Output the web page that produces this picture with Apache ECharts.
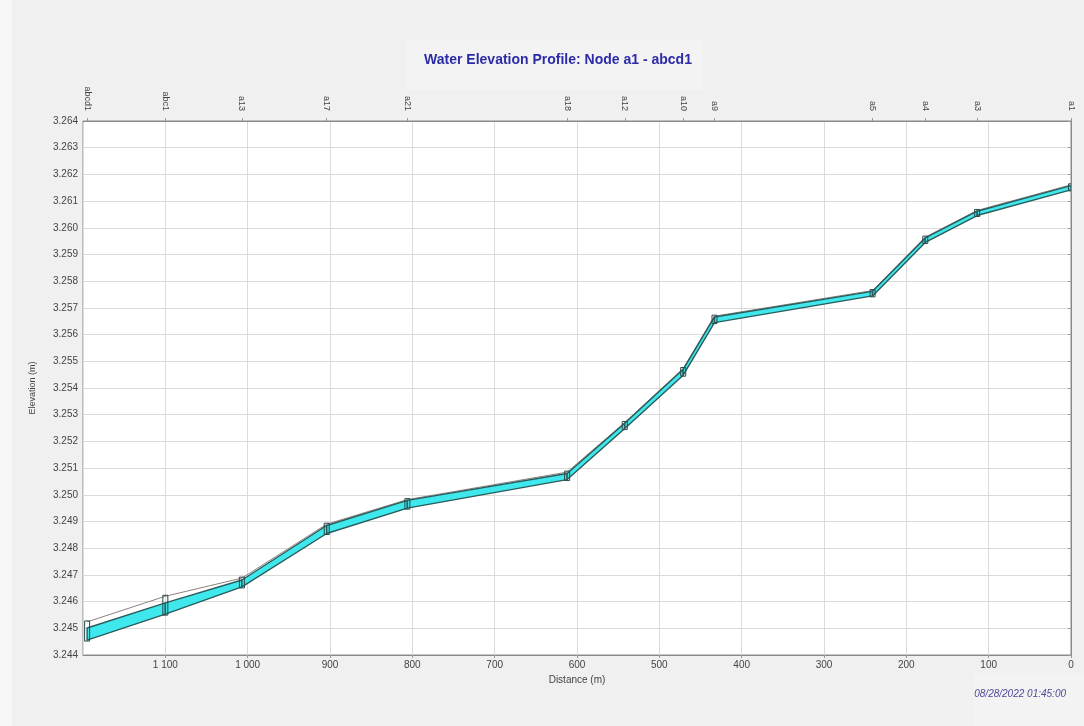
<!DOCTYPE html>
<html>
<head>
<meta charset="utf-8">
<script src="https://cdn.jsdelivr.net/npm/echarts@6/dist/echarts.min.js"></script>
<style>
    html, body { margin: 0; padding: 0; background: #f0f0f0; }
    #chart { width: 1084px; height: 726px; }
</style>
</head>
<body>
<div id="chart"></div>
<script>
// nodes along the profile, from upstream end (left) to a1 (right)
const nodeNames = ['abcd1', 'abc1', 'a13', 'a17', 'a21', 'a18', 'a12', 'a10', 'a9', 'a5', 'a4', 'a3', 'a1'];
const nodeDist = [1195, 1100, 1007, 904, 806, 612, 542, 471, 433, 241, 177, 114, 0];
// water surface band (upper / lower edge) and the thin reference line
const waterTop = [3.24501, 3.24595, 3.24681, 3.24885, 3.24979, 3.25080, 3.25268, 3.25470, 3.25666, 3.25762, 3.25962, 3.26062, 3.26158];
const waterBottom = [3.24456, 3.24553, 3.24655, 3.24855, 3.24950, 3.25057, 3.25248, 3.25448, 3.25645, 3.25745, 3.25945, 3.26046, 3.26142];
const refLine = [3.24524, 3.24620, 3.24688, 3.24890, 3.24982, 3.25085, 3.25271, 3.25473, 3.25669, 3.25765, 3.25965, 3.26065, 3.26161];

const titleText = 'Water Elevation Profile: Node a1 - abcd1';
const stampText = '08/28/2022 01:45:00';

const narrow = '"Liberation Sans Narrow", "Liberation Sans", Arial, sans-serif';

const chart = echarts.init(document.getElementById('chart'));

function fmtDist(v) {
    return v >= 1000 ? String(v).replace(/(\d)(\d{3})$/, '$1 $2') : String(v);
}

// band segment between node i and i+1, plus the little node box
function renderBand(params, api) {
    const i = params.dataIndex;
    const kids = [];
    if (i < nodeDist.length - 1) {
        const a = api.coord([nodeDist[i], waterTop[i]]);
        const b = api.coord([nodeDist[i + 1], waterTop[i + 1]]);
        const c = api.coord([nodeDist[i + 1], waterBottom[i + 1]]);
        const d = api.coord([nodeDist[i], waterBottom[i]]);
        kids.push({
            type: 'polygon',
            shape: { points: [a, b, c, d] },
            style: { fill: '#3ee8ec', stroke: '#2a5c5c', lineWidth: 1.4, lineJoin: 'round' }
        });
    }
    const top = api.coord([nodeDist[i], refLine[i]]);
    const bot = api.coord([nodeDist[i], waterBottom[i]]);
    kids.push({
        type: 'rect',
        shape: { x: top[0] - 2.5, y: top[1] - 1, width: 5, height: bot[1] - top[1] + 2 },
        style: { fill: 'rgba(0,0,0,0)', stroke: '#284a4a', lineWidth: 1 }
    });
    return { type: 'group', children: kids };
}

const option = {
    backgroundColor: '#f0f0f0',
    animation: false,
    title: {
        text: titleText,
        left: 553,
        top: 48,
        textAlign: 'center',
        textStyle: { color: '#2c2ca8', fontSize: 14, fontWeight: 'bold', fontFamily: 'Arial, "Liberation Sans", sans-serif' }
    },
    graphic: [
        { type: 'rect', left: 0, top: 0, shape: { width: 12, height: 726 }, style: { fill: '#f7f7f7' }, z: -10 },
        { type: 'rect', left: 407, top: 40, shape: { width: 296, height: 50 }, style: { fill: '#f3f3f3' }, z: -10 },
        { type: 'rect', left: 973, top: 673, shape: { width: 111, height: 53 }, style: { fill: '#f3f3f3' }, z: -10 },
        {
            type: 'text',
            right: 18,
            top: 689,
            style: { text: stampText, fill: '#4a4a9a', font: 'italic 10px ' + narrow }
        }
    ],
    grid: {
        left: 83,
        right: 13,
        top: 121,
        bottom: 71,
        show: true,
        backgroundColor: '#ffffff',
        borderColor: '#8a8a8a',
        borderWidth: 1
    },
    xAxis: [
        {
            type: 'value',
            min: 0,
            max: 1200,
            interval: 100,
            inverse: true,
            name: 'Distance (m)',
            nameLocation: 'middle',
            nameGap: 19,
            nameTextStyle: { color: '#444', fontSize: 10, fontFamily: narrow },
            axisLine: { show: true, lineStyle: { color: '#8a8a8a' } },
            axisTick: { show: true, length: 3, lineStyle: { color: '#999' } },
            axisLabel: {
                showMaxLabel: false,
                margin: 5,
                color: '#444',
                fontSize: 10,
                fontFamily: narrow,
                formatter: fmtDist
            },
            splitLine: { show: true, lineStyle: { color: '#dadada' } }
        },
        {
            type: 'value',
            position: 'top',
            min: 0,
            max: 1200,
            inverse: true,
            axisLine: { show: true, lineStyle: { color: '#8a8a8a' } },
            axisTick: { show: true, length: 3, customValues: nodeDist, lineStyle: { color: '#999' } },
            axisLabel: {
                customValues: nodeDist,
                rotate: 90,
                margin: 10,
                color: '#444',
                fontSize: 9,
                fontFamily: narrow,
                formatter: function (v) {
                    const k = nodeDist.indexOf(v);
                    return k >= 0 ? nodeNames[k] : '';
                }
            },
            splitLine: { show: false }
        }
    ],
    yAxis: {
        type: 'value',
        min: 3.244,
        max: 3.264,
        interval: 0.001,
        name: 'Elevation (m)',
        nameLocation: 'middle',
        nameGap: 46,
        nameTextStyle: { color: '#444', fontSize: 9, fontFamily: narrow },
        axisLine: { show: true, lineStyle: { color: '#8a8a8a' } },
        axisTick: { show: true, length: 3, lineStyle: { color: '#999' } },
        axisLabel: {
            margin: 5,
            color: '#444',
            fontSize: 10,
            fontFamily: narrow,
            formatter: v => v.toFixed(3)
        },
        splitLine: { show: true, lineStyle: { color: '#dadada' } }
    },
    series: [
        {
            type: 'line',
            name: 'reference',
            data: nodeDist.map((d, i) => [d, refLine[i]]),
            showSymbol: false,
            lineStyle: { color: '#8f8080', width: 1 },
            z: 1
        },
        {
            type: 'custom',
            name: 'water',
            data: nodeDist.map((d, i) => [d, waterTop[i], waterBottom[i]]),
            renderItem: renderBand,
            clip: true,
            z: 2
        }
    ]
};

chart.setOption(option);
</script>
</body>
</html>
